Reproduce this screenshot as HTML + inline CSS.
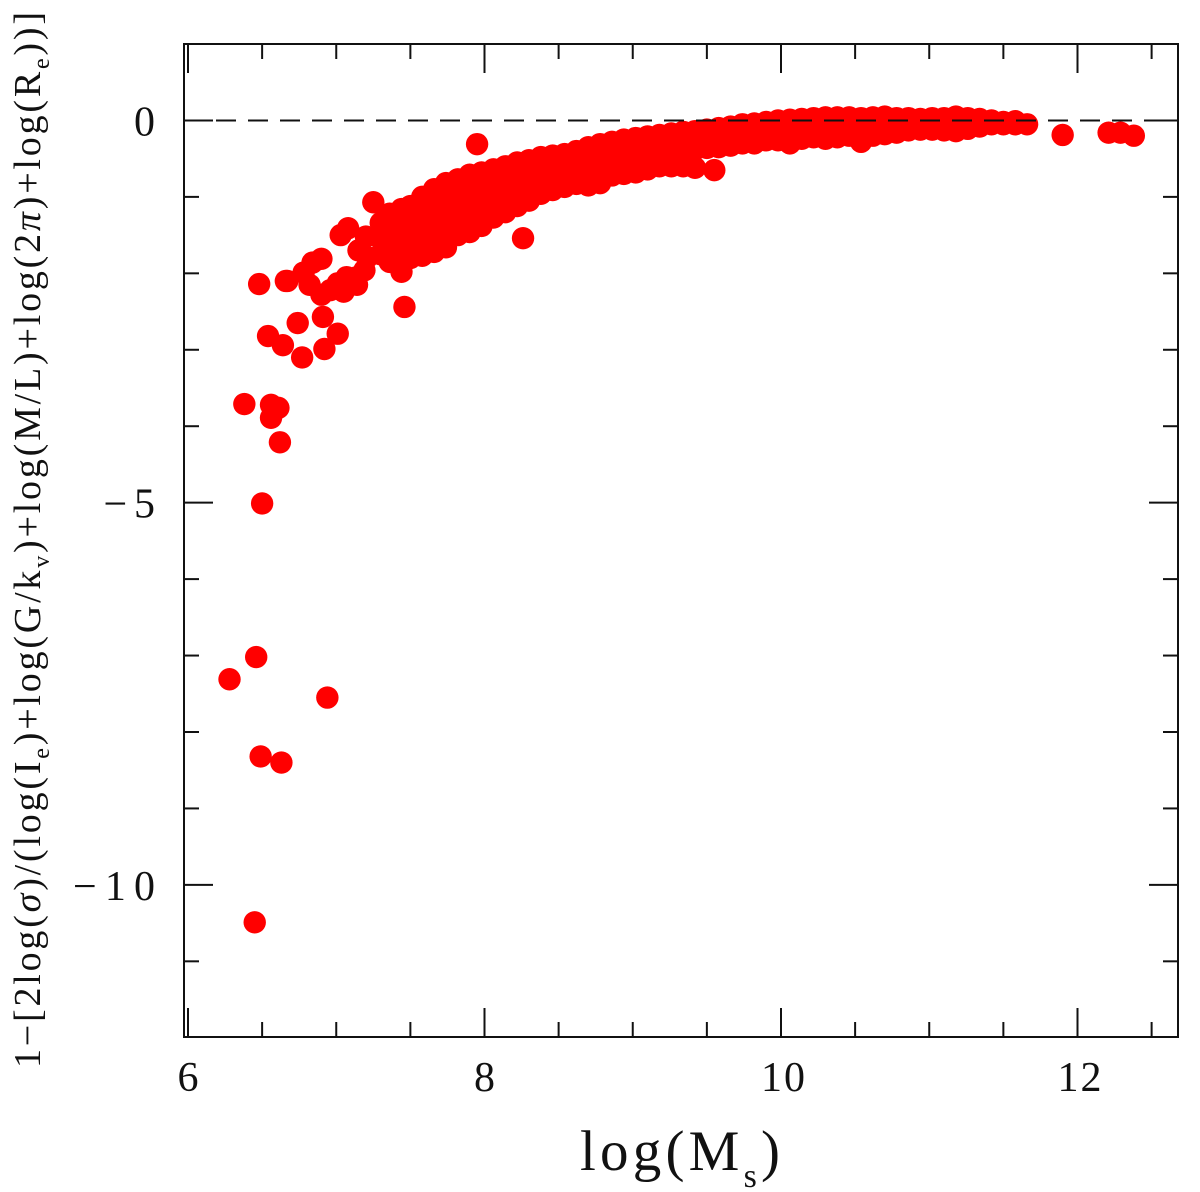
<!DOCTYPE html>
<html lang="en">
<head>
<meta charset="utf-8">
<title>log(Ms) scatter</title>
<style>
html,body{margin:0;padding:0;background:#fff;}
svg{display:block;}
text{font-family:"Liberation Serif","DejaVu Serif",serif;fill:#111;}
</style>
</head>
<body>
<svg id="chart" xmlns="http://www.w3.org/2000/svg" width="1200" height="1192" viewBox="0 0 1200 1192">
  <rect x="0" y="0" width="1200" height="1192" fill="#ffffff"></rect>
  <g id="points" fill="#ff0000"></g>
  <g id="axes" stroke="#111" stroke-width="2" fill="none"></g>
  <g id="tick-labels" font-size="42"></g>
  <text x="580" y="1170" font-size="57" textLength="200" lengthAdjust="spacing">log(M<tspan font-size="34" dy="17">s</tspan><tspan dy="-17">)</tspan></text>
  <text transform="translate(40,1068) rotate(-90)" font-size="38" textLength="1056" lengthAdjust="spacing">1−[2log(<tspan font-style="italic">σ</tspan>)/(log(I<tspan font-size="24" dy="9">e</tspan><tspan dy="-9">)+log(G/k</tspan><tspan font-size="24" dy="9">v</tspan><tspan dy="-9">)+log(M/L)+log(2</tspan><tspan font-style="italic">π</tspan>)+log(R<tspan font-size="24" dy="9">e</tspan><tspan dy="-9">))]</tspan></text>
</svg>
<script>
var outlierMass = [7.95,6.48,6.67,7.46,6.54,6.74,6.91,7.01,6.64,6.77,6.92,6.38,6.56,6.61,6.56,6.62,6.50,6.46,6.28,6.94,6.49,6.63,6.45,8.26,9.55,11.90,12.21,12.29,12.38,7.25,7.08,7.03,6.90,6.84,6.78,6.66,6.82,6.90,7.01,7.07,7.05,7.14,7.19,7.14,6.96,7.20,7.15,7.21];
var outlierOffset = [-0.31,-2.14,-2.10,-2.44,-2.82,-2.65,-2.57,-2.79,-2.94,-3.10,-2.99,-3.71,-3.72,-3.76,-3.89,-4.21,-5.01,-7.02,-7.31,-7.55,-8.32,-8.40,-10.49,-1.54,-0.65,-0.19,-0.16,-0.16,-0.20,-1.07,-1.41,-1.50,-1.81,-1.86,-1.99,-2.10,-2.15,-2.28,-2.13,-2.05,-2.24,-2.15,-1.96,-2.05,-2.22,-1.52,-1.70,-1.79];

var bandMass = [7.30,7.36,7.44,7.50,7.58,7.66,7.74,7.82,7.90,7.98,8.06,8.14,8.22,8.30,8.38,8.46,8.54,8.62,8.70,8.78,8.86,8.94,9.02,9.10,9.18,9.26,9.34,9.42,9.50,9.58,9.66,9.74,9.82,9.90,9.98,10.06,10.14,10.22,10.30,10.38,10.46,10.54,10.62,10.70,10.78,10.86,10.94,11.02,11.10,11.18,11.26,11.34,11.42,11.50,11.58,11.66];
var bandOffsets = [
  [-1.34,-1.55,-1.75],
  [-1.22,-1.45,-1.65,-1.85],
  [-1.16,-1.38,-1.58,-1.75,-1.98],
  [-1.12,-1.32,-1.50,-1.68,-1.80],
  [-1.00,-1.20,-1.40,-1.60,-1.77],
  [-0.90,-1.12,-1.32,-1.52,-1.72],
  [-0.82,-1.03,-1.23,-1.43,-1.66],
  [-0.77,-0.95,-1.15,-1.35,-1.50],
  [-0.71,-0.92,-1.10,-1.28,-1.46],
  [-0.68,-0.86,-1.05,-1.22,-1.38],
  [-0.64,-0.82,-1.00,-1.15,-1.27],
  [-0.60,-0.78,-0.94,-1.08,-1.20],
  [-0.55,-0.72,-0.88,-1.04,-1.12],
  [-0.52,-0.66,-0.82,-1.05],
  [-0.48,-0.62,-0.76,-0.96],
  [-0.46,-0.58,-0.72,-0.91],
  [-0.44,-0.55,-0.70,-0.87],
  [-0.40,-0.52,-0.66,-0.83],
  [-0.35,-0.48,-0.62,-0.85],
  [-0.31,-0.45,-0.60,-0.82],
  [-0.28,-0.42,-0.56,-0.72],
  [-0.25,-0.40,-0.54,-0.70],
  [-0.23,-0.37,-0.50,-0.68],
  [-0.21,-0.34,-0.47,-0.64],
  [-0.19,-0.32,-0.44,-0.60],
  [-0.17,-0.30,-0.42,-0.60],
  [-0.15,-0.27,-0.40,-0.60],
  [-0.14,-0.25,-0.38,-0.62],
  [-0.12,-0.24,-0.36],
  [-0.10,-0.22,-0.35],
  [-0.08,-0.20,-0.33],
  [-0.05,-0.16,-0.30],
  [-0.04,-0.15,-0.30],
  [-0.02,-0.14,-0.26],
  [0.00,-0.12,-0.26],
  [0.01,-0.12,-0.30],
  [0.02,-0.10,-0.24],
  [0.03,-0.10,-0.22],
  [0.04,-0.09,-0.24],
  [0.04,-0.08,-0.22],
  [0.04,-0.08,-0.20],
  [0.03,-0.09,-0.28],
  [0.04,-0.08,-0.20],
  [0.05,-0.07,-0.18],
  [0.03,-0.07,-0.16],
  [0.03,-0.06,-0.13],
  [0.02,-0.06,-0.12],
  [0.03,-0.06,-0.12],
  [0.03,-0.05,-0.13],
  [0.05,-0.04,-0.14],
  [0.03,-0.05,-0.11],
  [0.02,-0.05,-0.08],
  [0.00,-0.05],
  [-0.02,-0.05],
  [-0.01,-0.05],
  [-0.05]
];

var xMajorTicks = [6,8,10,12];
var xMinorTicks = [6.5,7,7.5,8.5,9,9.5,10.5,11,11.5,12.5];
var yMajorTicks = [0,-5,-10];
var yMinorTicks = [-1,-2,-3,-4,-6,-7,-8,-9,-11];
var xTickLabels = ["6","8","10","12"];
var yTickLabels = ["0","−5","−10"];
var referenceLevel = [0];

var plotLeft = 184, plotRight = 1178, plotTop = 44, plotBottom = 1037;
var xDomain = [5.973, 12.678];
var yDomain = [1.0, -11.99];
var svgNS = "http://www.w3.org/2000/svg";

function xScale(v){ return plotLeft + (v - xDomain[0]) / (xDomain[1] - xDomain[0]) * (plotRight - plotLeft); }
function yScale(v){ return plotTop + (v - yDomain[0]) / (yDomain[1] - yDomain[0]) * (plotBottom - plotTop); }

var pointsGroup = document.getElementById('points');
var axesGroup = document.getElementById('axes');
var labelsGroup = document.getElementById('tick-labels');

function addPoint(mass, offset){
  var c = document.createElementNS(svgNS, 'circle');
  
  
  c.setAttribute('cx', xScale(mass));
  c.setAttribute('cy', yScale(offset));
  c.setAttribute('r', 11.2);
  pointsGroup.appendChild(c);
}

function addTickLine(x1, y1, x2, y2){
  var l = document.createElementNS(svgNS, 'line');
  
  
  l.setAttribute('x1', x1);
  l.setAttribute('y1', y1);
  l.setAttribute('x2', x2);
  l.setAttribute('y2', y2);
  axesGroup.appendChild(l);
}

outlierMass.forEach(function(m, i){ addPoint(m, outlierOffset[i]); });
bandMass.forEach(function(m, i){
  bandOffsets[i].forEach(function(o){ addPoint(m, o); });
});

var frame = document.createElementNS(svgNS, 'rect');


frame.setAttribute('x', plotLeft);
frame.setAttribute('y', plotTop);
frame.setAttribute('width', plotRight - plotLeft);
frame.setAttribute('height', plotBottom - plotTop);
axesGroup.appendChild(frame);

var majorLen = 29, minorLen = 15;
xMajorTicks.forEach(function(v){
  var x = xScale(v);
  addTickLine(x, plotBottom, x, plotBottom - majorLen);
  addTickLine(x, plotTop, x, plotTop + majorLen);
});
xMinorTicks.forEach(function(v){
  var x = xScale(v);
  addTickLine(x, plotBottom, x, plotBottom - minorLen);
  addTickLine(x, plotTop, x, plotTop + minorLen);
});
yMajorTicks.forEach(function(v){
  var y = yScale(v);
  addTickLine(plotLeft, y, plotLeft + majorLen, y);
  addTickLine(plotRight, y, plotRight - majorLen, y);
});
yMinorTicks.forEach(function(v){
  var y = yScale(v);
  addTickLine(plotLeft, y, plotLeft + minorLen, y);
  addTickLine(plotRight, y, plotRight - minorLen, y);
});

referenceLevel.forEach(function(v){
  var d = document.createElementNS(svgNS, 'line');
  
  
  d.setAttribute('x1', plotLeft);
  d.setAttribute('y1', yScale(v));
  d.setAttribute('x2', plotRight);
  d.setAttribute('y2', yScale(v));
  d.setAttribute('stroke-dasharray', '20 12');
  axesGroup.appendChild(d);
});

xTickLabels.forEach(function(t, i){
  var el = document.createElementNS(svgNS, 'text');
  
  
  el.setAttribute('x', xScale(xMajorTicks[i]) + (t.length > 1 ? 3 : 0));
  el.setAttribute('y', 1091);
  el.setAttribute('text-anchor', 'middle');
  el.setAttribute('letter-spacing', t.length > 1 ? 2 : 0);
  el.textContent = t;
  labelsGroup.appendChild(el);
});
yTickLabels.forEach(function(t, i){
  var el = document.createElementNS(svgNS, 'text');
  
  
  var labelWidth = 21 + (t.length - 1) * 30.5;
  el.setAttribute('x', 155 - labelWidth);
  el.setAttribute('y', yScale(yMajorTicks[i]) + 15);
  if (t.length > 1) {
    el.setAttribute('textLength', labelWidth);
  }
  el.textContent = t;
  labelsGroup.appendChild(el);
});
</script>
</body>
</html>
